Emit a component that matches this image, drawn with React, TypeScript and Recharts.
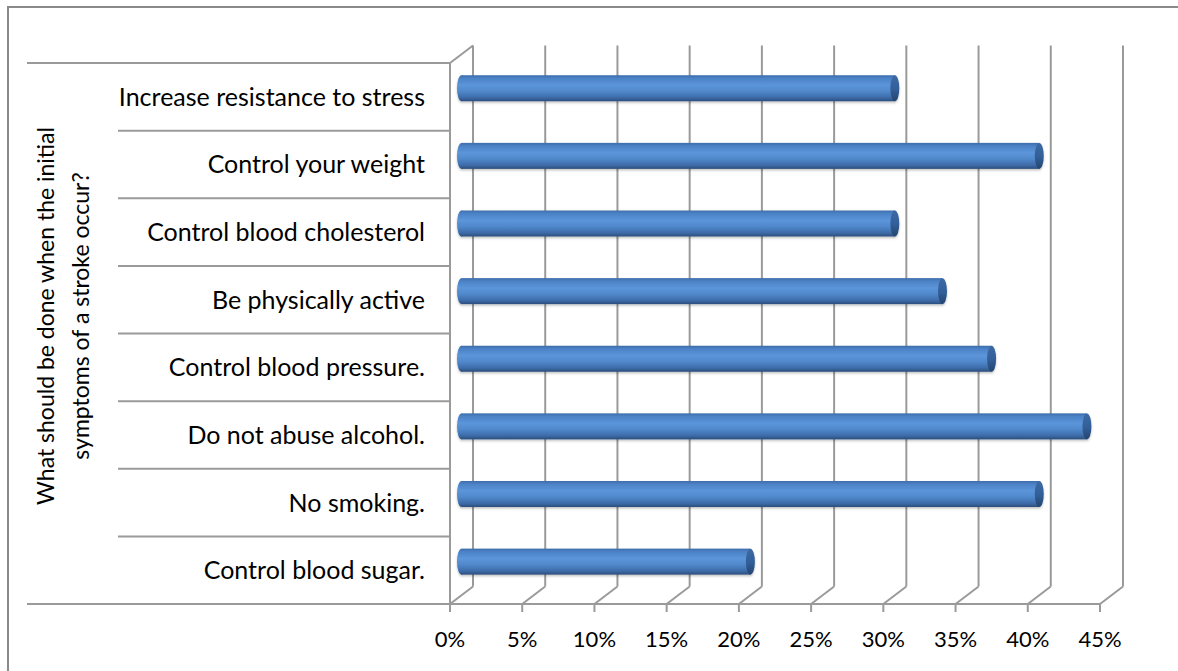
import React from "react";
import { BarChart, Bar, XAxis, YAxis, CartesianGrid } from "recharts";

const measures = [
  "Increase resistance to stress",
  "Control your weight",
  "Control blood cholesterol",
  "Be physically active",
  "Control blood pressure.",
  "Do not abuse alcohol.",
  "No smoking.",
  "Control blood sugar.",
];
const shares = [30, 40, 30, 33.3, 36.7, 43.3, 40, 20];
const pctTicks = [0, 5, 10, 15, 20, 25, 30, 35, 40, 45];
const titleLines = ["What should be done when the initial", "symptoms of a stroke occur?"];

const data = measures.map((name, i) => ({ name, value: shares[i] }));

// depth of the 3-D box: the back wall sits up and to the right of the front edge
const DX = 23;
const DY = -17.5;
const GRID = "#9a9a9a";
const FONT = "Lato, 'Open Sans', sans-serif";

// back-wall gridline plus the floor diagonal that joins it to the front tick
function BackGridLine(props: any) {
  const { x1, y1, y2, index } = props;
  return (
    <g key={`depth-${index}`}>
      <line x1={x1} y1={y2} x2={x1 + DX} y2={y2 + DY} stroke={GRID} strokeWidth={2} />
      <line x1={x1 + DX} y1={y2 + DY} x2={x1 + DX} y2={y1 + DY} stroke={GRID} strokeWidth={2} />
      {index === 0 && (
        <line x1={x1} y1={y1} x2={x1 + DX} y2={y1 + DY} stroke={GRID} strokeWidth={2} />
      )}
    </g>
  );
}

// cylinder bar, drawn half way into the box depth
function Cylinder(props: any) {
  const { x, y, width, height } = props;
  if (!width || width <= 0) return null;
  const bx = x + DX / 2;
  const by = y + DY / 2;
  const ry = height / 2;
  const rx = 4.5;
  return (
    <g filter="url(#barShadow)">
      <rect x={bx} y={by} width={width} height={height} fill="url(#cylBody)" />
      <ellipse cx={bx} cy={by + ry} rx={rx} ry={ry} fill="url(#cylBody)" />
      <ellipse cx={bx + width} cy={by + ry} rx={rx} ry={ry} fill="url(#cylCap)" />
    </g>
  );
}

function CategoryTick(props: any) {
  const { x, y, payload, index, visibleTicksCount, height } = props;
  const count = visibleTicksCount || measures.length;
  const band = height ? height / count : 541 / count;
  const top = y - band / 2;
  const bottom = y + band / 2;
  return (
    <g>
      <line x1={index === 0 ? 27 : 118} y1={top} x2={x} y2={top} stroke={GRID} strokeWidth={2} />
      {index === count - 1 && (
        <line x1={27} y1={bottom} x2={x} y2={bottom} stroke={GRID} strokeWidth={2} />
      )}
      <text
        x={x - 25}
        y={y}
        dy="0.36em"
        textAnchor="end"
        fontSize={25}
        fontFamily={FONT}
        fill="#000"
      >
        {payload.value}
      </text>
    </g>
  );
}

function AxisTitle() {
  const cx = 54;
  const cy = 316;
  return (
    <text
      transform={`rotate(-90, ${cx}, ${cy})`}
      textAnchor="middle"
      fontSize={23}
      fontFamily={FONT}
      fill="#000"
    >
      <tspan x={cx} y={cy}>{titleLines[0]}</tspan>
      <tspan x={cx} y={cy + 35}>{titleLines[1]}</tspan>
    </text>
  );
}

export default function App() {
  return (
    <div
      style={{
        position: "absolute",
        left: 0,
        top: 0,
        width: 1178,
        height: 671,
        overflow: "hidden",
        background: "#fff",
      }}
    >
      <div
        style={{
          position: "absolute",
          left: 7,
          top: 6,
          width: 1300,
          height: 800,
          borderTop: "2px solid #8a8a8a",
          borderLeft: "2px solid #8a8a8a",
        }}
      />
      <svg width={0} height={0} style={{ position: "absolute" }}>
        <defs>
          <linearGradient id="cylBody" x1="0" y1="0" x2="0" y2="1">
            <stop offset="0%" stopColor="#3d6dab" />
            <stop offset="12%" stopColor="#4c82c6" />
            <stop offset="38%" stopColor="#5c95da" />
            <stop offset="62%" stopColor="#5088cb" />
            <stop offset="86%" stopColor="#3d6ba8" />
            <stop offset="100%" stopColor="#2b4e7c" />
          </linearGradient>
          <linearGradient id="cylCap" x1="0" y1="0" x2="0" y2="1">
            <stop offset="0%" stopColor="#3d6aa3" />
            <stop offset="50%" stopColor="#33609a" />
            <stop offset="100%" stopColor="#24466f" />
          </linearGradient>
          <filter id="barShadow" x="-5%" y="-30%" width="110%" height="170%">
            <feDropShadow dx="0" dy="1.5" stdDeviation="1.2" floodColor="#000" floodOpacity="0.25" />
          </filter>
        </defs>
      </svg>
      <div style={{ position: "absolute", left: 0, top: 0 }}>
        <BarChart
          width={1178}
          height={671}
          data={data}
          layout="vertical"
          margin={{ top: 63, right: 78, bottom: 27, left: 0 }}
          barSize={26}
        >
          <CartesianGrid horizontal={false} vertical={BackGridLine} />
          <XAxis
            type="number"
            domain={[0, 45]}
            ticks={pctTicks}
            tickFormatter={(v) => `${v}%`}
            height={40}
            tickSize={8}
            tickMargin={19}
            axisLine={{ stroke: GRID, strokeWidth: 2 }}
            tickLine={{ stroke: GRID, strokeWidth: 2 }}
            tick={{ fill: "#000", fontSize: 22, fontFamily: FONT }}
            interval={0}
          />
          <YAxis
            type="category"
            dataKey="name"
            width={450}
            tickSize={0}
            tickMargin={0}
            interval={0}
            axisLine={{ stroke: GRID, strokeWidth: 2 }}
            tickLine={false}
            tick={<CategoryTick />}
            label={<AxisTitle />}
          />
          <Bar dataKey="value" shape={<Cylinder />} isAnimationActive={false} />
        </BarChart>
      </div>
    </div>
  );
}
